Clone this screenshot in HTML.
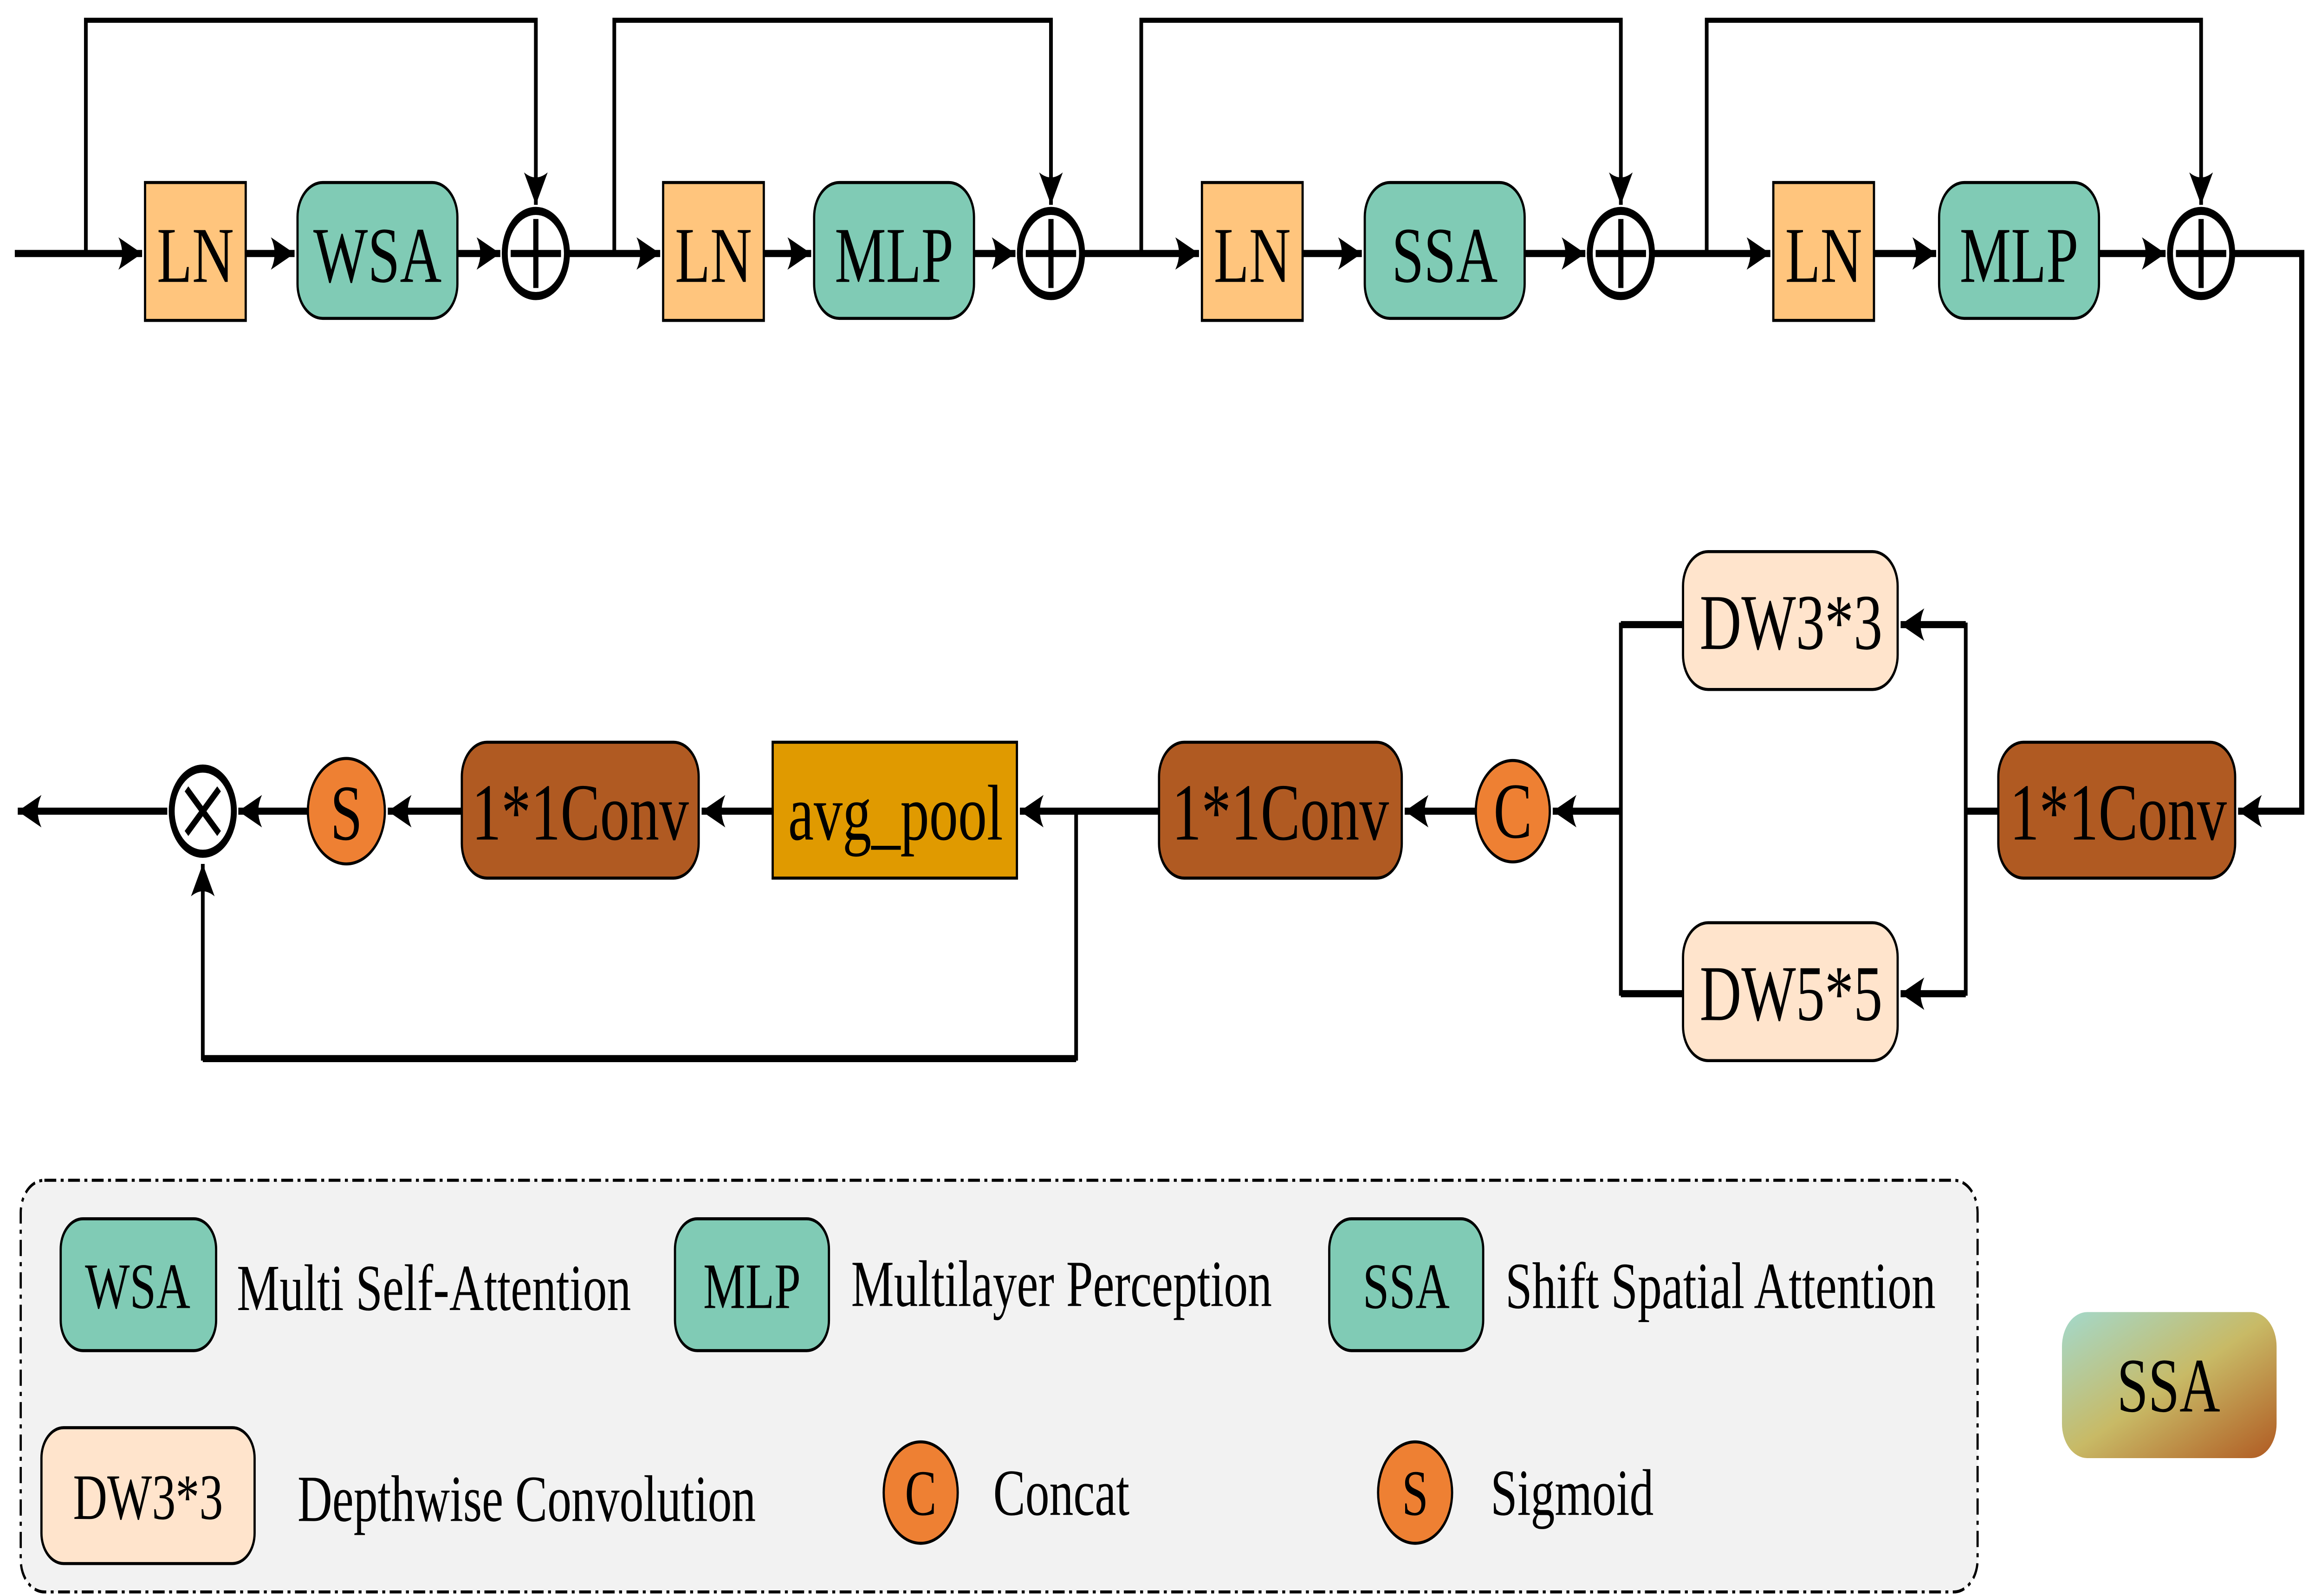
<!DOCTYPE html>
<html><head><meta charset="utf-8"><style>
html,body{margin:0;padding:0;background:#fff;width:100%;height:100%;overflow:hidden;}
svg{display:block;width:100vw;height:100vh;}
text{font-family:"Liberation Serif",serif;fill:#000;}
</style></head><body>
<svg viewBox="0 0 1568 787" preserveAspectRatio="none" xmlns="http://www.w3.org/2000/svg">
<defs>
<marker id="a" markerUnits="userSpaceOnUse" markerWidth="18" markerHeight="16" refX="16" refY="8" orient="auto">
<path d="M0,0 L16,8 L0,16 Q5,8 0,0 Z" fill="#000"/>
</marker>
<linearGradient id="g" x1="0" y1="0" x2="1" y2="1">
<stop offset="0" stop-color="#a3d9cc"/><stop offset="0.5" stop-color="#c8ba66"/><stop offset="1" stop-color="#b05a22"/>
</linearGradient>
</defs>
<g stroke="#000" fill="none">
<g stroke-width="3.5">
<line x1="10" y1="125" x2="96" y2="125" marker-end="url(#a)"/>
<line x1="166" y1="125" x2="199" y2="125" marker-end="url(#a)"/>
<line x1="309" y1="125" x2="338" y2="125" marker-end="url(#a)"/>
<line x1="384" y1="125" x2="446" y2="125" marker-end="url(#a)"/>
<line x1="516" y1="125" x2="548" y2="125" marker-end="url(#a)"/>
<line x1="658" y1="125" x2="686" y2="125" marker-end="url(#a)"/>
<line x1="732" y1="125" x2="810" y2="125" marker-end="url(#a)"/>
<line x1="880" y1="125" x2="920" y2="125" marker-end="url(#a)"/>
<line x1="1030" y1="125" x2="1071" y2="125" marker-end="url(#a)"/>
<line x1="1117" y1="125" x2="1196" y2="125" marker-end="url(#a)"/>
<line x1="1266" y1="125" x2="1308" y2="125" marker-end="url(#a)"/>
<line x1="1418" y1="125" x2="1463" y2="125" marker-end="url(#a)"/>
<polyline points="1509,125 1555,125 1555,400 1512,400" marker-end="url(#a)"/>
</g>
<g stroke-width="2.5">
<polyline points="58,125 58,10 362,10 362,101" marker-end="url(#a)"/>
<polyline points="415,125 415,10 710,10 710,101" marker-end="url(#a)"/>
<polyline points="771,125 771,10 1095,10 1095,101" marker-end="url(#a)"/>
<polyline points="1153,125 1153,10 1487,10 1487,101" marker-end="url(#a)"/>
</g>
<g stroke-width="3.5">
<line x1="1350" y1="400" x2="1328" y2="400"/>
<line x1="1328" y1="308" x2="1284" y2="308" marker-end="url(#a)"/>
<line x1="1328" y1="490" x2="1284" y2="490" marker-end="url(#a)"/>
<line x1="1137" y1="308" x2="1095" y2="308"/>
<line x1="1137" y1="490" x2="1095" y2="490"/>
<line x1="1095" y1="400" x2="1049" y2="400" marker-end="url(#a)"/>
<line x1="997" y1="400" x2="949" y2="400" marker-end="url(#a)"/>
<line x1="783" y1="400" x2="689" y2="400" marker-end="url(#a)"/>
<line x1="522" y1="400" x2="474" y2="400" marker-end="url(#a)"/>
<line x1="312" y1="400" x2="262" y2="400" marker-end="url(#a)"/>
<line x1="208" y1="400" x2="161" y2="400" marker-end="url(#a)"/>
<line x1="113" y1="400" x2="12" y2="400" marker-end="url(#a)"/>
<line x1="137" y1="522" x2="727" y2="522"/>
</g>
<g stroke-width="2.5">
<line x1="1328" y1="307" x2="1328" y2="491"/>
<line x1="1095" y1="307" x2="1095" y2="491"/>
<line x1="727" y1="400" x2="727" y2="523"/>
<line x1="137" y1="523" x2="137" y2="426" marker-end="url(#a)"/>
</g>
</g>
<g stroke="#000" stroke-width="1.5">
<rect x="98" y="90" width="68" height="68" fill="#ffc57d"/>
<rect x="448" y="90" width="68" height="68" fill="#ffc57d"/>
<rect x="812" y="90" width="68" height="68" fill="#ffc57d"/>
<rect x="1198" y="90" width="68" height="68" fill="#ffc57d"/>
<rect x="201" y="90" width="108" height="67" rx="17" fill="#80cbb5"/>
<rect x="550" y="90" width="108" height="67" rx="17" fill="#80cbb5"/>
<rect x="922" y="90" width="108" height="67" rx="17" fill="#80cbb5"/>
<rect x="1310" y="90" width="108" height="67" rx="17" fill="#80cbb5"/>
<rect x="1137" y="272" width="145" height="68" rx="17" fill="#ffe4cc"/>
<rect x="1137" y="455" width="145" height="68" rx="17" fill="#ffe4cc"/>
<rect x="1350" y="366" width="160" height="67" rx="17" fill="#b05a22"/>
<rect x="783" y="366" width="164" height="67" rx="17" fill="#b05a22"/>
<rect x="522" y="366" width="165" height="67" fill="#e09a00"/>
<rect x="312" y="366" width="160" height="67" rx="17" fill="#b05a22"/>
<circle cx="1022" cy="400" r="25" fill="#ee8033"/>
<circle cx="234" cy="400" r="26" fill="#ee8033"/>
</g>
<g stroke="#000" fill="#fff" stroke-width="4">
<circle cx="362" cy="125" r="21"/><circle cx="710" cy="125" r="21"/>
<circle cx="1095" cy="125" r="21"/><circle cx="1487" cy="125" r="21"/>
<circle cx="137" cy="400" r="21"/>
</g>
<g stroke="#000" stroke-width="3.5">
<path d="M345,125H379M362,108V142"/><path d="M693,125H727M710,108V142"/>
<path d="M1078,125H1112M1095,108V142"/><path d="M1470,125H1504M1487,108V142"/>
<path d="M126,389L148,411M148,389L126,411"/>
</g>
<g font-size="39" text-anchor="middle">
<text x="132" y="139">LN</text><text x="255" y="139">WSA</text>
<text x="482" y="139">LN</text><text x="604" y="139">MLP</text>
<text x="846" y="139">LN</text><text x="976" y="139">SSA</text>
<text x="1232" y="139">LN</text><text x="1364" y="139">MLP</text>
<text x="1210" y="320">DW3*3</text><text x="1210" y="503">DW5*5</text>
<text x="1431" y="414" font-size="40">1*1Conv</text><text x="865" y="414" font-size="40">1*1Conv</text>
<text x="605" y="414">avg_pool</text><text x="392" y="414" font-size="40">1*1Conv</text>
<text x="1022" y="413">C</text><text x="234" y="414">S</text>
</g>
<rect x="14" y="582" width="1322" height="203" rx="16" fill="#f2f2f2" stroke="#000" stroke-width="1.5" stroke-dasharray="8,3,2,3"/>
<g stroke="#000" stroke-width="1.5">
<rect x="41" y="601" width="105" height="65" rx="15" fill="#80cbb5"/>
<rect x="456" y="601" width="104" height="65" rx="15" fill="#80cbb5"/>
<rect x="898" y="601" width="104" height="65" rx="15" fill="#80cbb5"/>
<rect x="28" y="704" width="144" height="67" rx="15" fill="#ffe4cc"/>
<circle cx="622" cy="736" r="25" fill="#ee8033"/>
<circle cx="956" cy="736" r="25" fill="#ee8033"/>
</g>
<rect x="1393" y="647" width="145" height="72" rx="17" fill="url(#g)"/>
<g font-size="32" text-anchor="middle">
<text x="93" y="645">WSA</text><text x="508" y="645">MLP</text><text x="950" y="645">SSA</text>
<text x="100" y="749">DW3*3</text><text x="622" y="747">C</text><text x="956" y="747">S</text>
<text x="1465" y="696" font-size="38">SSA</text>
</g>
<g font-size="32.5">
<text x="160" y="646">Multi Self-Attention</text>
<text x="575" y="644">Multilayer Perception</text>
<text x="1017" y="645">Shift Spatial Attention</text>
<text x="201" y="750">Depthwise Convolution</text>
<text x="671" y="747">Concat</text>
<text x="1007" y="747">Sigmoid</text>
</g>
</svg>
</body></html>
